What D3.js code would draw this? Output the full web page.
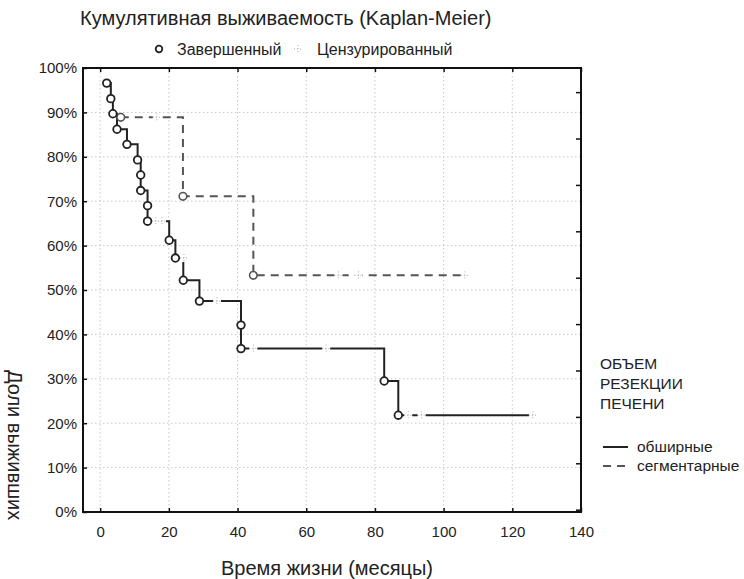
<!DOCTYPE html>
<html><head><meta charset="utf-8">
<script src="https://cdn.jsdelivr.net/npm/d3@7"></script>
<style>
body{margin:0;background:#fff;}
text{font-family:"Liberation Sans",Arial,sans-serif;fill:#222;}
</style></head>
<body>
<svg id="c" width="744" height="579"></svg>
<script>
// ---- data ----
const xTicks = [0, 20, 40, 60, 80, 100, 120, 140];
const yTicks = [0, 0.1, 0.2, 0.3, 0.4, 0.5, 0.6, 0.7, 0.8, 0.9, 1.0];
// обширные: completed events (time, survival)
const extTimes = [1.9, 3.1, 3.7, 4.9, 7.8, 10.9, 11.8, 11.8, 13.8, 13.8, 20.1, 21.9, 24.2, 28.9, 41.0, 41.0, 82.7, 86.8];
const extSurv  = [0.966, 0.931, 0.897, 0.862, 0.828, 0.793, 0.759, 0.724, 0.690, 0.655, 0.612, 0.572, 0.522, 0.475, 0.421, 0.368, 0.295, 0.218];
// обширные: censored (time, survival)
const extCensT = [16.2, 18.0, 24.4, 34.0, 44.6, 65.8, 89.7, 93.6, 126.0];
const extCensS = [0.655, 0.655, 0.572, 0.475, 0.368, 0.368, 0.218, 0.218, 0.218];
const extEnd = 126.0;
// сегментарные
const segTimes = [6.0, 24.1, 44.6];
const segSurv  = [0.889, 0.711, 0.533];
const segCensT = [16.5, 69.4, 75.2, 106.2];
const segCensS = [0.889, 0.533, 0.533, 0.533];
const segEnd = 106.2;

const FONT = '"Liberation Sans",Arial,sans-serif';
const svg = d3.select("#c");
const L = 83, R = 581, T = 68, B = 512;
const x = d3.scaleLinear().domain([-5, 140]).range([L, R]);
const y = d3.scaleLinear().domain([0, 1]).range([B, T]);

// grid
svg.append("g").selectAll("line").data(xTicks).join("line")
  .attr("x1", d => x(d)).attr("x2", d => x(d)).attr("y1", T).attr("y2", B)
  .attr("stroke", "#c8c8c8").attr("stroke-dasharray", "1.5,2.5").attr("stroke-width", 1);
svg.append("g").selectAll("line").data(yTicks).join("line")
  .attr("y1", d => y(d)).attr("y2", d => y(d)).attr("x1", L).attr("x2", R)
  .attr("stroke", "#c8c8c8").attr("stroke-dasharray", "1.5,2.5").attr("stroke-width", 1);

// axes (inward ticks)
const fmtPct = d3.format(".0%");
const gx = svg.append("g").attr("transform", `translate(0,${B})`)
  .call(d3.axisBottom(x).tickValues(xTicks).tickSize(-4).tickPadding(14));
const gxt = svg.append("g").attr("transform", `translate(0,${T})`)
  .call(d3.axisTop(x).tickValues(xTicks).tickSize(-4).tickFormat(""));
const gy = svg.append("g").attr("transform", `translate(${L},0)`)
  .call(d3.axisLeft(y).tickValues(yTicks).tickFormat(fmtPct).tickSize(-4).tickPadding(6));
const yR = d3.scaleLinear().domain([-0.05, 9.52]).range([B, T]);
const gyr = svg.append("g").attr("transform", `translate(${R},0)`)
  .call(d3.axisRight(yR).tickValues(d3.range(0, 10)).tickSize(-5).tickFormat(""));
[gx, gxt, gy, gyr].forEach(g => {
  g.select(".domain").remove();
  g.selectAll(".tick line").attr("stroke", "#111").attr("stroke-width", 1.5);
  g.selectAll(".tick text").attr("font-size", 15).attr("fill", "#222").style("font-family", FONT);
});
svg.append("rect").attr("x", L).attr("y", T).attr("width", R - L).attr("height", B - T)
  .attr("fill", "none").attr("stroke", "#111").attr("stroke-width", 2);

// step path builder
function stepPts(times, surv, endT) {
  const pts = [[times[0], surv[0]]];
  for (let i = 1; i < times.length; i++) {
    pts.push([times[i], surv[i - 1]]);
    pts.push([times[i], surv[i]]);
  }
  pts.push([endT, surv[surv.length - 1]]);
  return pts;
}
const line = d3.line().x(d => x(d[0])).y(d => y(d[1]));

svg.append("path").datum(stepPts(segTimes, segSurv, segEnd)).attr("d", line)
  .attr("fill", "none").attr("stroke", "#555").attr("stroke-width", 2).attr("stroke-dasharray", "8,6");
svg.append("path").datum(stepPts(extTimes, extSurv, extEnd)).attr("d", line)
  .attr("fill", "none").attr("stroke", "#222").attr("stroke-width", 2);

function censored(g, cx, cy) {
  g.append("rect").attr("x", cx - 4).attr("y", cy - 4).attr("width", 8).attr("height", 8).attr("fill", "#fff");
  g.append("line").attr("x1", cx - 4).attr("x2", cx + 4).attr("y1", cy).attr("y2", cy)
    .attr("stroke", "#aaa").attr("stroke-width", 1).attr("stroke-dasharray", "1,2");
  g.append("line").attr("x1", cx).attr("x2", cx).attr("y1", cy - 4).attr("y2", cy + 4)
    .attr("stroke", "#aaa").attr("stroke-width", 1).attr("stroke-dasharray", "1,2");
}
const cg = svg.append("g");
segCensT.forEach((t, i) => censored(cg, x(t), y(segCensS[i])));
extCensT.forEach((t, i) => censored(cg, x(t), y(extCensS[i])));

svg.append("g").selectAll("circle").data(segTimes).join("circle")
  .attr("cx", d => x(d)).attr("cy", (d, i) => y(segSurv[i])).attr("r", 3.8)
  .attr("fill", "#fff").attr("stroke", "#555").attr("stroke-width", 1.6);
svg.append("g").selectAll("circle").data(extTimes).join("circle")
  .attr("cx", d => x(d)).attr("cy", (d, i) => y(extSurv[i])).attr("r", 3.8)
  .attr("fill", "#fff").attr("stroke", "#222").attr("stroke-width", 1.8);

// titles
svg.append("text").attr("x", 80).attr("y", 25).attr("font-size", 20).text("Кумулятивная выживаемость (Kaplan-Meier)");
svg.append("circle").attr("cx", 159).attr("cy", 49).attr("r", 3.3).attr("fill", "#fff").attr("stroke", "#222").attr("stroke-width", 1.8);
svg.append("text").attr("x", 177).attr("y", 55).attr("font-size", 16).text("Завершенный");
censored(svg, 298, 49);
svg.append("text").attr("x", 317).attr("y", 55).attr("font-size", 16).text("Цензурированный");

svg.append("text").attr("x", 327).attr("y", 575).attr("text-anchor", "middle").attr("font-size", 20).text("Время жизни (месяцы)");
svg.append("text").attr("transform", "translate(8,370) rotate(90)").attr("font-size", 20).text("Доли выживших");

// right legend
["ОБЪЕМ", "РЕЗЕКЦИИ", "ПЕЧЕНИ"].forEach((s, i) =>
  svg.append("text").attr("x", 600).attr("y", 369 + i * 20).attr("font-size", 15.5).text(s));
svg.append("line").attr("x1", 603).attr("x2", 628).attr("y1", 447).attr("y2", 447).attr("stroke", "#222").attr("stroke-width", 2);
svg.append("text").attr("x", 637).attr("y", 452).attr("font-size", 15.5).text("обширные");
svg.append("line").attr("x1", 603).attr("x2", 628).attr("y1", 466).attr("y2", 466).attr("stroke", "#555").attr("stroke-width", 2).attr("stroke-dasharray", "8,6");
svg.append("text").attr("x", 637).attr("y", 471).attr("font-size", 15.5).text("сегментарные");
</script>
</body></html>
